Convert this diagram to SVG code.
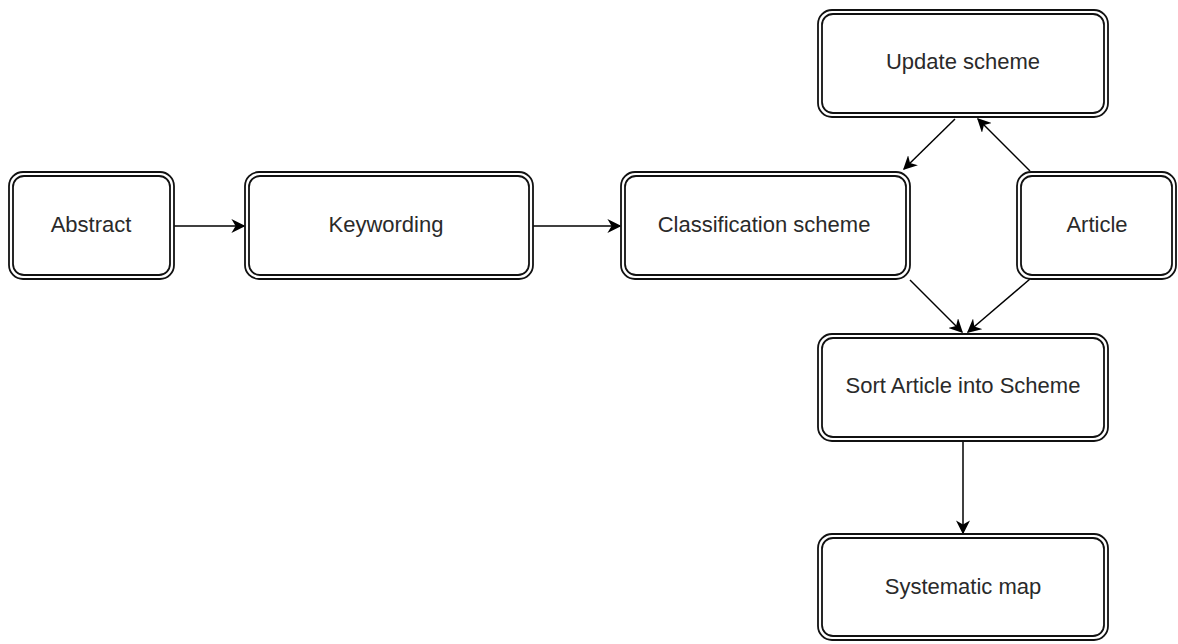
<svg xmlns="http://www.w3.org/2000/svg" width="1178" height="644" viewBox="0 0 1178 644">
<style>
.o{fill:#fff;stroke:#111;stroke-width:1.8}
.i{fill:none;stroke:#111;stroke-width:1.8}
.t{font-family:"Liberation Sans",Arial,sans-serif;font-size:22px;fill:#2a2a2a;text-anchor:middle;dominant-baseline:central}
.c{stroke:#000;stroke-width:1.5;fill:none;marker-end:url(#a)}
</style>
<defs>
<marker id="a" viewBox="0 0 10 10" refX="9" refY="5" markerWidth="14" markerHeight="14" markerUnits="userSpaceOnUse" orient="auto">
<path d="M0,0 L10,5 L0,10 L3,5 Z" fill="#000"/>
</marker>
</defs>
<rect width="1178" height="644" fill="#fff"/>
<g id="connectors">
<line class="c" x1="174" y1="226" x2="244" y2="226"/>
<line class="c" x1="533" y1="226" x2="620" y2="226"/>
<line class="c" x1="955" y1="119" x2="904" y2="169"/>
<line class="c" x1="1030" y1="171" x2="978" y2="119"/>
<line class="c" x1="910" y1="280" x2="962" y2="332"/>
<line class="c" x1="1030" y1="279" x2="968" y2="332"/>
<line class="c" x1="963" y1="442" x2="963" y2="533"/>
</g>
<g id="abstract">
<rect class="o" x="9" y="172" width="165" height="107" rx="14"/>
<rect class="i" x="13" y="176" width="157" height="99" rx="11"/>
<text class="t" x="91" y="224">Abstract</text>
</g>
<g id="keywording">
<rect class="o" x="245" y="172" width="288" height="107" rx="14"/>
<rect class="i" x="249" y="176" width="280" height="99" rx="11"/>
<text class="t" x="386" y="224">Keywording</text>
</g>
<g id="classification">
<rect class="o" x="621" y="172" width="289" height="107" rx="14"/>
<rect class="i" x="625" y="176" width="281" height="99" rx="11"/>
<text class="t" x="764" y="224">Classification scheme</text>
</g>
<g id="article">
<rect class="o" x="1017" y="172" width="159" height="107" rx="14"/>
<rect class="i" x="1021" y="176" width="151" height="99" rx="11"/>
<text class="t" x="1097" y="224">Article</text>
</g>
<g id="update">
<rect class="o" x="818" y="10" width="290" height="107" rx="14"/>
<rect class="i" x="822" y="14" width="282" height="99" rx="11"/>
<text class="t" x="963" y="61">Update scheme</text>
</g>
<g id="sort">
<rect class="o" x="818" y="334" width="290" height="107" rx="14"/>
<rect class="i" x="822" y="338" width="282" height="99" rx="11"/>
<text class="t" x="963" y="385">Sort Article into Scheme</text>
</g>
<g id="map">
<rect class="o" x="818" y="534" width="290" height="106" rx="14"/>
<rect class="i" x="822" y="538" width="282" height="98" rx="11"/>
<text class="t" x="963" y="586">Systematic map</text>
</g>
</svg>
